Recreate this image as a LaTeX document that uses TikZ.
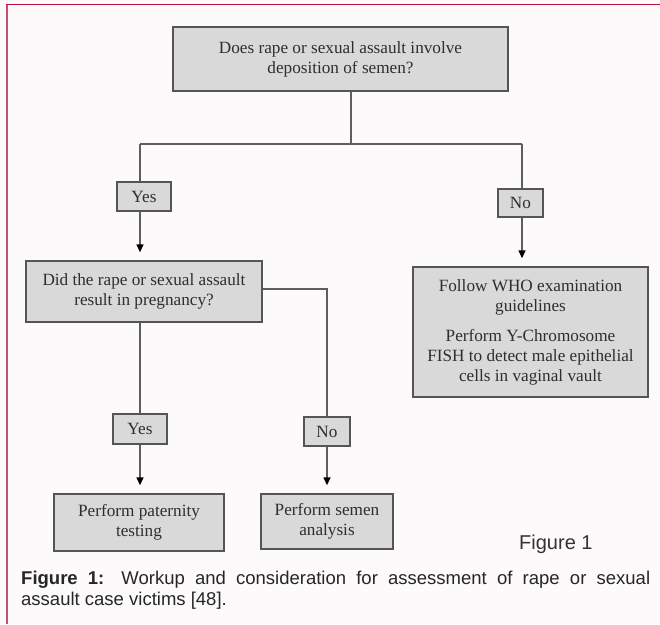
\documentclass[tikz,border=0pt]{standalone}
\usepackage{fontspec}
\setmainfont{Liberation Serif}
\newfontfamily\capfont{Liberation Sans}
\usetikzlibrary{arrows.meta,calc}
\definecolor{bg}{HTML}{FCFAFB}
\definecolor{frametop}{HTML}{C0103C}
\definecolor{frameleft}{HTML}{C94F72}
\definecolor{boxfill}{HTML}{D9D9D9}
\definecolor{boxline}{HTML}{555555}
\definecolor{connc}{HTML}{5E5E5E}
\definecolor{txt}{HTML}{2E2E2E}
\begin{document}
\begin{tikzpicture}[x=1pt,y=-1pt,
  box/.style={draw=boxline, fill=boxfill, line width=1.4pt, inner sep=0pt, align=center, text=txt, font=\fontsize{17.2}{20}\selectfont},
  conn/.style={draw=connc, line width=1.4pt},
  arr/.style={conn, -{Triangle[width=7pt,length=8pt,black]}, shorten >=8pt}]
\fill[bg] (0,0) rectangle (660,624);
\useasboundingbox (0,0) rectangle (660,624);
\draw[frameleft, line width=2pt] (6.8,624) -- (6.8,4.5);
\draw[frametop, line width=1.5pt] (6,4.5) -- (660,4.5);

\node[box, minimum width=335pt, minimum height=64pt] (q1) at (340.5,59) {Does rape or sexual assault involve\\deposition of semen?};
\node[box, minimum width=54pt, minimum height=29pt] (yes1) at (144,196.5) {Yes};
\node[box, minimum width=45pt, minimum height=28pt] (no1) at (520.5,203) {No};
\node[box, minimum width=236pt, minimum height=61pt] (q2) at (144,291.5) {Did the rape or sexual assault\\result in pregnancy?};
\node[box, minimum width=235pt, minimum height=130pt] (who) at (530.5,332) {Follow WHO examination\\guidelines\\[10pt]Perform Y-Chromosome\\FISH to detect male epithelial\\cells in vaginal vault};
\node[box, minimum width=54pt, minimum height=30pt] (yes2) at (140,429) {Yes};
\node[box, minimum width=46pt, minimum height=29pt] (no2) at (327,431.5) {No};
\node[box, minimum width=170pt, minimum height=57pt] (pat) at (139,522.5) {Perform paternity\\testing};
\node[box, minimum width=132pt, minimum height=55pt] (sem) at (327,521.5) {Perform semen\\analysis};

\coordinate (jt) at (351,144);
\coordinate (jl) at (140,144);
\coordinate (jr) at (522,144);
\coordinate (jq) at (327,289);

\draw[conn] (q1.south -| jt) -- (jt);
\draw[conn] (jl) -- (jr);
\draw[conn] (jl) -- (yes1.north -| jl);
\draw[conn] (jr) -- (no1.north -| jr);
\draw[arr] (yes1.south -| jl) -- (q2.north -| jl);
\draw[arr] (no1.south -| jr) -- (who.north -| jr);
\draw[conn] (q2.east |- jq) -- (jq) -- (no2.north -| jq);
\draw[conn] (q2.south -| jl) -- (yes2.north -| jl);
\draw[arr] (yes2.south -| jl) -- (pat.north -| jl);
\draw[arr] (no2.south -| jq) -- (sem.north -| jq);

\node[anchor=base west, inner sep=0pt, font=\capfont\fontsize{20}{24}\selectfont, text=black!80] (fig) at (519,549) {Figure 1};
\node[anchor=north west, inner sep=0pt, text width=629pt, align=justify, font=\capfont\fontsize{18.5}{21}\selectfont, text=black!85] (cap) at (21,571) {\textbf{Figure 1:} Workup and consideration for assessment of rape or sexual\linebreak assault case victims [48].};
\end{tikzpicture}
\end{document}
